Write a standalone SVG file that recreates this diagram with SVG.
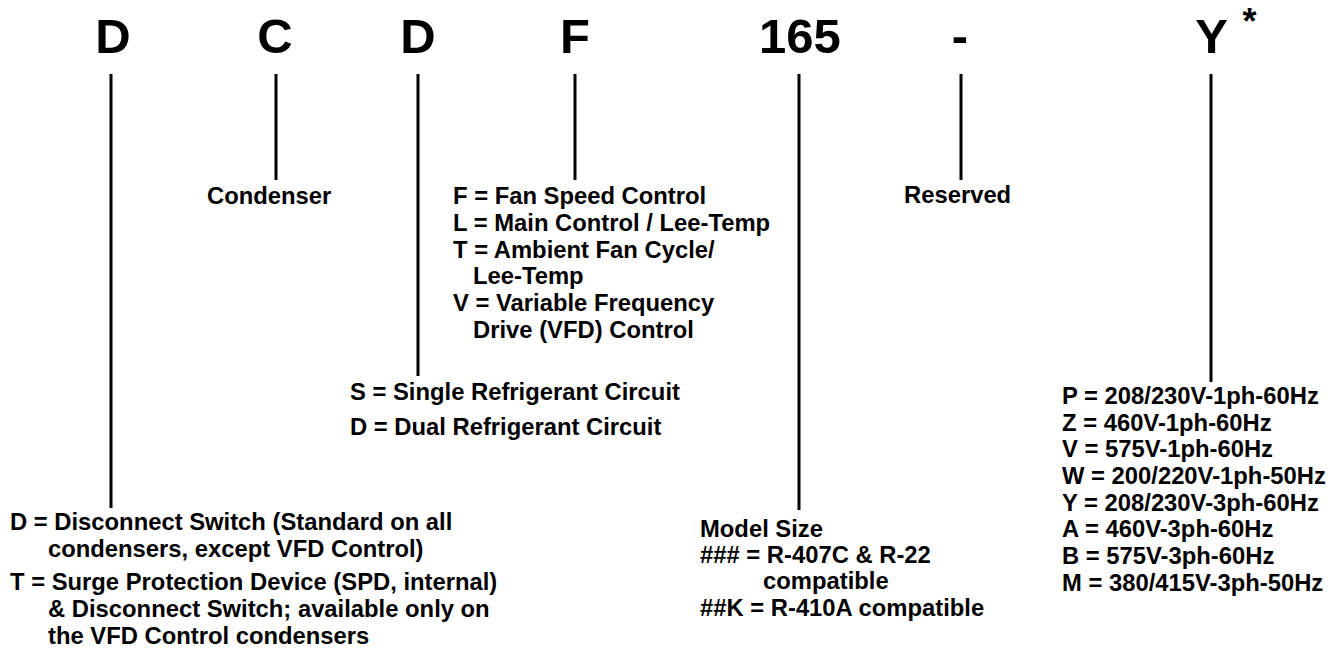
<svg xmlns="http://www.w3.org/2000/svg" width="1342" height="651" viewBox="0 0 1342 651">
<style>
  .big { font-family: "Liberation Sans", Arial, sans-serif; font-weight: bold; font-size: 49px; fill: #000; text-anchor: middle; }
  .star { font-family: "Liberation Sans", Arial, sans-serif; font-weight: bold; font-size: 36px; fill: #000; text-anchor: middle; }
  .lbl { font-family: "Liberation Sans", Arial, sans-serif; font-weight: bold; font-size: 23.8px; fill: #000; }
  .conn line { stroke: #000; stroke-width: 3; fill: none; }
</style>
<rect width="1342" height="651" fill="#fff"/>

<g id="connectors" class="conn">
  <line x1="111" y1="74" x2="111" y2="508"/>
  <line x1="276" y1="74" x2="276" y2="180"/>
  <line x1="418" y1="74" x2="418" y2="376"/>
  <line x1="575" y1="74" x2="575" y2="180"/>
  <line x1="799" y1="74" x2="799" y2="510"/>
  <line x1="961" y1="74" x2="961" y2="180"/>
  <line x1="1211" y1="74" x2="1211" y2="382"/>
</g>

<g id="node-disconnect">
  <text class="big" x="113" y="53">D</text>
  <text class="lbl" x="10" y="530">D = Disconnect Switch (Standard on all</text>
  <text class="lbl" x="48" y="557">condensers, except VFD Control)</text>
  <text class="lbl" x="10" y="590">T = Surge Protection Device (SPD, internal)</text>
  <text class="lbl" x="48" y="617">&amp; Disconnect Switch; available only on</text>
  <text class="lbl" x="48" y="644">the VFD Control condensers</text>
</g>

<g id="node-condenser">
  <text class="big" x="275" y="53">C</text>
  <text class="lbl" x="207" y="204">Condenser</text>
</g>

<g id="node-circuit">
  <text class="big" x="418" y="53">D</text>
  <text class="lbl" x="350" y="400">S = Single Refrigerant Circuit</text>
  <text class="lbl" x="350" y="435">D = Dual Refrigerant Circuit</text>
</g>

<g id="node-control">
  <text class="big" x="575" y="53">F</text>
  <text class="lbl" x="453" y="204">F = Fan Speed Control</text>
  <text class="lbl" x="453" y="231">L = Main Control / Lee-Temp</text>
  <text class="lbl" x="453" y="257.5">T = Ambient Fan Cycle/</text>
  <text class="lbl" x="473" y="284">Lee-Temp</text>
  <text class="lbl" x="453" y="311">V = Variable Frequency</text>
  <text class="lbl" x="473" y="337.5">Drive (VFD) Control</text>
</g>

<g id="node-size">
  <text class="big" x="800" y="53">165</text>
  <text class="lbl" x="700" y="537">Model Size</text>
  <text class="lbl" x="700" y="563">### = R-407C &amp; R-22</text>
  <text class="lbl" x="763" y="589">compatible</text>
  <text class="lbl" x="700" y="616">##K = R-410A compatible</text>
</g>

<g id="node-reserved">
  <text class="big" x="960" y="53">-</text>
  <text class="lbl" x="904" y="203">Reserved</text>
</g>

<g id="node-voltage">
  <text class="big" x="1211.5" y="53">Y</text>
  <text class="star" x="1249.5" y="34">*</text>
  <text class="lbl" x="1062" y="404">P = 208/230V-1ph-60Hz</text>
  <text class="lbl" x="1062" y="431">Z = 460V-1ph-60Hz</text>
  <text class="lbl" x="1062" y="457">V = 575V-1ph-60Hz</text>
  <text class="lbl" x="1062" y="484">W = 200/220V-1ph-50Hz</text>
  <text class="lbl" x="1062" y="511">Y = 208/230V-3ph-60Hz</text>
  <text class="lbl" x="1062" y="537">A = 460V-3ph-60Hz</text>
  <text class="lbl" x="1062" y="564">B = 575V-3ph-60Hz</text>
  <text class="lbl" x="1062" y="591">M = 380/415V-3ph-50Hz</text>
</g>
</svg>
